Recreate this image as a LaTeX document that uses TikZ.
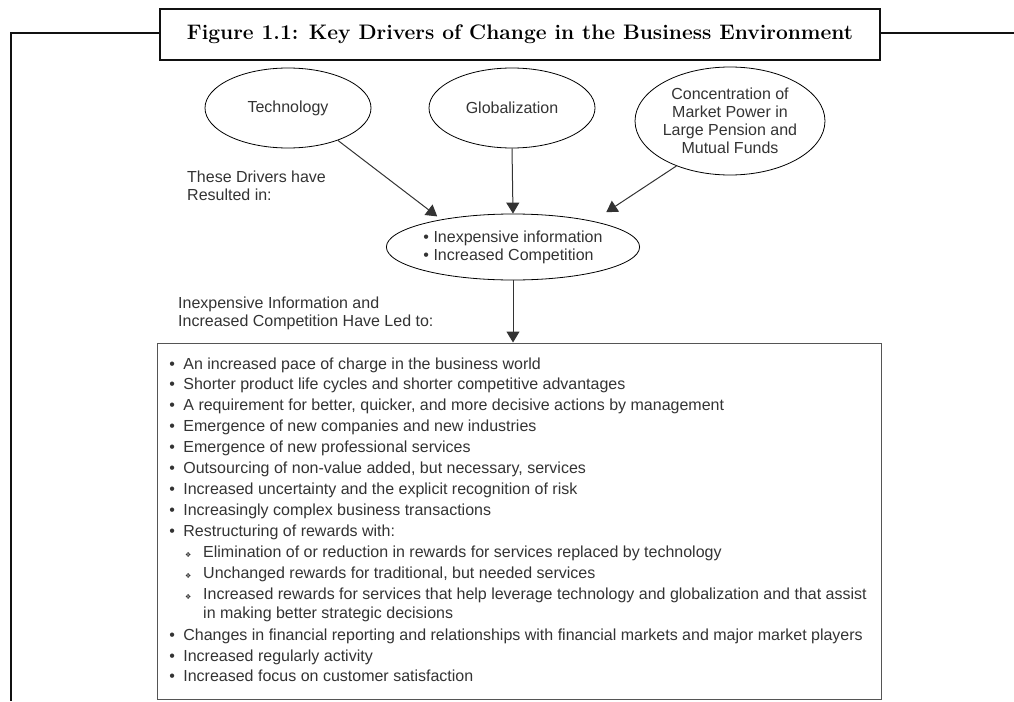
\documentclass[tikz,border=0pt]{standalone}
\usepackage{fontspec}
\setsansfont{Liberation Sans}
\newfontfamily\symfont{DejaVu Sans}
\usetikzlibrary{arrows.meta,shapes.geometric}
\definecolor{ink}{HTML}{333333}
\definecolor{framec}{HTML}{111111}
\definecolor{boxc}{HTML}{555555}
\newcommand\bul{\makebox[14pt][l]{\textbullet}}
\newcommand\subbul{\makebox[18pt][l]{{\symfont\fontsize{7}{7}\selectfont ❖}}}
\begin{document}
\begin{tikzpicture}[x=1pt,y=-1pt,
  every node/.style={font=\sffamily\fontsize{16}{18}\selectfont, text=ink},
  drv/.style={draw=black, line width=0.8pt, ellipse, inner sep=0pt, align=center},
  arr/.style={draw=ink, line width=1pt, -{Triangle[width=13pt,length=11pt]}},
  lbl/.style={anchor=north west, align=left, inner sep=0pt},
  item/.style={anchor=base west, inner sep=0pt},
]
\useasboundingbox (0,0) rectangle (1014,701);
% outer frame
\draw[line width=2.5pt, framec] (1014,33) -- (11,33) -- (11,701);
\node[draw=framec, line width=2.5pt, fill=white, minimum width=720pt, minimum height=51pt,
      inner sep=0pt, text=black, font=\rmfamily\bfseries\fontsize{21}{24}\selectfont]
      (title) at (520,34.5) {Figure 1.1: Key Drivers of Change in the Business Environment};
% drivers
\node[drv, minimum width=166pt, minimum height=80pt] (tech) at (288,108) {Technology};
\node[drv, minimum width=166pt, minimum height=80pt] (glob) at (512,108) {Globalization};
\node[drv, minimum width=164pt, minimum height=108pt] (conc) at (730,121)
  {Concentration of\\Market Power in\\Large Pension and\\Mutual Funds};
\node[drv, minimum width=220pt, minimum height=66pt, align=left] (ctr) at (513,247)
  {\textbullet\ Inexpensive information\\\textbullet\ Increased Competition};
% labels
\node[lbl] (res) at (187,170.5) {These Drivers have\\Resulted in:};
\node[lbl] (led) at (178,296.5) {Inexpensive Information and\\Increased Competition Have Led to:};
% list box
\node[draw=boxc, line width=1pt, minimum width=724pt, minimum height=356pt, inner sep=0pt] (box) at (519,521) {};
\node[item] (i1) at (169.2,369.0) {\bul An increased pace of charge in the business world};
\node[item] (i2) at (169.2,389.9) {\bul Shorter product life cycles and shorter competitive advantages};
\node[item] (i3) at (169.2,410.9) {\bul A requirement for better, quicker, and more decisive actions by management};
\node[item] (i4) at (169.2,431.8) {\bul Emergence of new companies and new industries};
\node[item] (i5) at (169.2,452.7) {\bul Emergence of new professional services};
\node[item] (i6) at (169.2,473.7) {\bul Outsourcing of non-value added, but necessary, services};
\node[item] (i7) at (169.2,494.6) {\bul Increased uncertainty and the explicit recognition of risk};
\node[item] (i8) at (169.2,515.5) {\bul Increasingly complex business transactions};
\node[item] (i9) at (169.2,536.4) {\bul Restructuring of rewards with:};
\node[item] (s1) at (185,557.4) {\subbul Elimination of or reduction in rewards for services replaced by technology};
\node[item] (s2) at (185,578.3) {\subbul Unchanged rewards for traditional, but needed services};
\node[item] (s3) at (185,599.2) {\subbul Increased rewards for services that help leverage technology and globalization and that assist};
\node[item] (s3b) at (203,618.2) {in making better strategic decisions};
\node[item] (i10) at (169.2,640.1) {\bul Changes in financial reporting and relationships with financial markets and major market players};
\node[item] (i11) at (169.2,661.0) {\bul Increased regularly activity};
\node[item] (i12) at (169.2,681.9) {\bul Increased focus on customer satisfaction};
% connectors
\draw[arr, shorten >=5pt] (tech.-33) -- (ctr.159);
\draw[arr] (glob.south) -- (ctr.north);
\draw[arr, shorten >=16pt] (conc.220) -- (ctr.18);
\draw[arr] (ctr.south) -- (ctr.south |- box.north);
\end{tikzpicture}
\end{document}
